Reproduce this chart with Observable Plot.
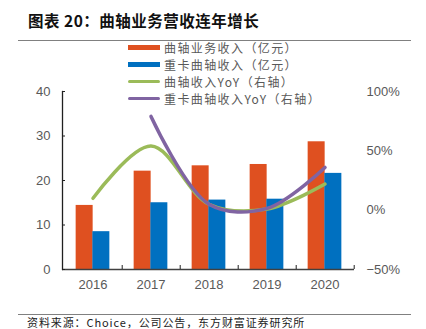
<!DOCTYPE html>
<html>
<head>
<meta charset="utf-8">
<script src="https://cdn.jsdelivr.net/npm/d3@7"></script>
<script src="https://cdn.jsdelivr.net/npm/@observablehq/plot@0.6"></script>
<style>
  body { margin: 0; background: #fff; }
  #wrap { position: relative; width: 426px; height: 329px; overflow: hidden; background: #fff; }
  #title { position: absolute; left: 28px; top: 10px; font: bold 15.5px "Noto Sans CJK SC", sans-serif; letter-spacing: 0.5px; color: #111; white-space: nowrap; line-height: 20px; }
  .hr { position: absolute; left: 18px; width: 393px; height: 0; border-top: 1.5px solid #808080; }
  #legend { position: absolute; left: 128px; top: 39px; font: 12px "Noto Sans CJK SC", sans-serif; color: #595959; letter-spacing: 1.4px; }
  .row { height: 17px; display: flex; align-items: center; white-space: nowrap; }
  .sw { width: 32px; margin-right: 4px; }
  #source { position: absolute; left: 27px; top: 316px; font-family: "Noto Sans CJK SC", sans-serif; font-size: 11px; line-height: 12px; color: #222; letter-spacing: 0.9px; white-space: nowrap; }
  #chart { position: absolute; left: 0; top: 0; }
</style>
</head>
<body>
<div id="wrap">
  <div id="chart"></div>
  <div id="title"></div>
  <div class="hr" style="top:40px"></div>
  <div id="legend"></div>
  <div class="hr" style="top:314px"></div>
  <div id="source"></div>
</div>
<script>
const titleText = "图表 20：曲轴业务营收连年增长";
const sourceText = "资料来源：Choice，公司公告，东方财富证券研究所";
const years = ["2016", "2017", "2018", "2019", "2020"];
const crankRevenue = [14.4, 22.1, 23.3, 23.6, 28.7];
const truckCrankRevenue = [8.5, 15.0, 15.6, 15.8, 21.6];
const crankYoY = [10, 54, 5, 1, 22];
const truckCrankYoY = [null, 79, 5, 1.5, 36];
const seriesNames = ["曲轴业务收入（亿元）", "重卡曲轴收入（亿元）", "曲轴收入YoY（右轴）", "重卡曲轴收入YoY（右轴）"];
const seriesColors = ["#DF5020", "#0070C0", "#9BBB59", "#8064A2"];
const leftTicks = [0, 10, 20, 30, 40];
const rightTicks = [-50, 0, 50, 100];

document.getElementById("title").textContent = titleText;
document.getElementById("source").textContent = sourceText;

const legend = document.getElementById("legend");
seriesNames.forEach((name, i) => {
  const row = document.createElement("div");
  row.className = "row";
  const sw = document.createElement("div");
  sw.className = "sw";
  sw.style.background = seriesColors[i];
  sw.style.height = i < 2 ? "5px" : "3.5px";
  if (i >= 2) sw.style.borderRadius = "2px";
  const t = document.createElement("span");
  t.textContent = name;
  row.appendChild(sw); row.appendChild(t);
  legend.appendChild(row);
});

const rows = years.map((year, i) => ({year, crank: crankRevenue[i], truck: truckCrankRevenue[i], crankYoY: crankYoY[i], truckYoY: truckCrankYoY[i]}));
// secondary axis mapping: right percent domain onto left value domain
const yR = d3.scaleLinear([-50, 100], [0, 40]);

const step = (426 - 62 - 72) / years.length;
const half = step * (1 - 0.714) / 2;

const chart = Plot.plot({
  width: 426, height: 300,
  marginTop: 91, marginBottom: 31, marginLeft: 62, marginRight: 72,
  style: {fontFamily: "'Liberation Sans', Arial, sans-serif", fontSize: "13px", color: "#595959", background: "transparent", overflow: "visible"},
  x: {domain: years, type: "band", paddingInner: 0.714, paddingOuter: 0.357, axis: null, label: null},
  y: {domain: [0, 40], axis: null, label: null},
  marks: [
    Plot.barY(rows, {x: "year", y: "crank", fill: seriesColors[0], dx: -half}),
    Plot.barY(rows, {x: "year", y: "truck", fill: seriesColors[1], dx: half}),
    Plot.line(rows, {x: "year", y: d => yR(d.crankYoY), stroke: seriesColors[2], strokeWidth: 3.5, curve: "catmull-rom"}),
    Plot.line(rows.filter(d => d.truckYoY != null), {x: "year", y: d => yR(d.truckYoY), stroke: seriesColors[3], strokeWidth: 3.5, curve: "catmull-rom"}),
    Plot.ruleY([0], {stroke: "#404040", strokeWidth: 1.3}),
    Plot.frame({anchor: "left", stroke: "#202020", strokeWidth: 1.3}),
    Plot.axisY({anchor: "left", label: null, ticks: leftTicks, tickSize: -3, tickPadding: 15, stroke: "#202020", fill: "#595959"}),
    Plot.axisY({anchor: "right", label: null, ticks: rightTicks.map(v => yR(v)), tickSize: 0, tickPadding: 12, tickFormat: v => { const p = Math.round(yR.invert(v)); return (p < 0 ? "\u2212" + (-p) : p) + "%"; }, fill: "#595959"}),
    Plot.axisX({anchor: "bottom", label: null, tickSize: 0, tickPadding: 10, fill: "#595959"}),
    Plot.axisX({anchor: "bottom", label: null, tickSize: -4, dx: step / 2, tickFormat: () => "", stroke: "#202020"})
  ]
});
document.getElementById("chart").appendChild(chart);
</script>
</body>
</html>
